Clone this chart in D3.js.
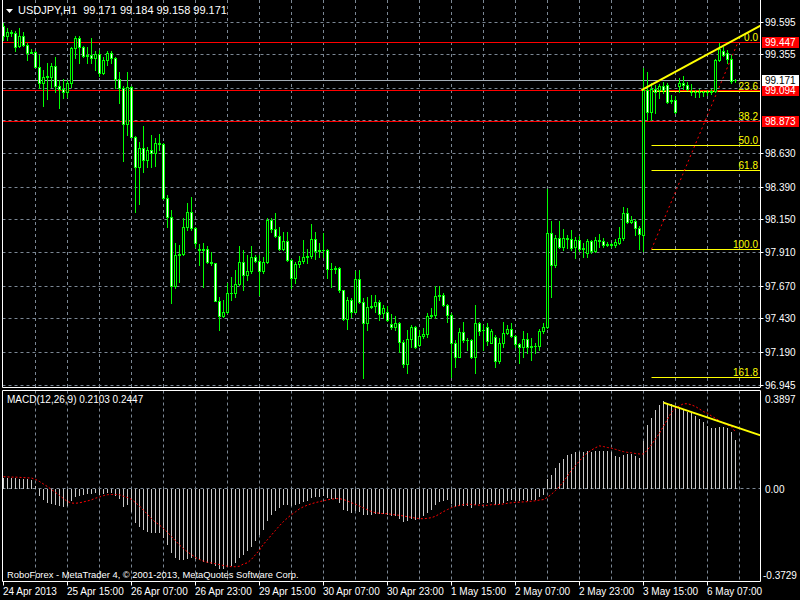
<!DOCTYPE html>
<html><head><meta charset="utf-8">
<script src="https://cdn.jsdelivr.net/npm/d3@7"></script>
<style>html,body{margin:0;padding:0;background:#000;}svg{display:block;}text{font-family:"Liberation Sans",Arial,sans-serif;}</style>
</head><body><svg id="c" width="800" height="600"></svg>
<script>
// ---------------- DATA ----------------
const title = "USDJPY,H1  99.171 99.184 99.158 99.171";
const macdTitle = "MACD(12,26,9) 0.2103 0.2447";
const footer = "RoboForex - MetaTrader 4, \u00A9 2001-2013, MetaQuotes Software Corp.";

const open = [
99.566,99.493,99.520,99.512,99.420,99.493,99.427,99.372,99.379,99.270,
99.154,99.197,99.197,99.275,99.129,99.110,99.088,99.154,99.403,99.476,
99.410,99.347,99.355,99.330,99.362,99.226,99.318,99.367,99.330,99.178,
99.112,98.853,99.120,98.761,98.538,98.676,98.591,98.664,98.640,98.712,
98.705,98.312,98.174,97.675,97.900,97.907,98.101,98.215,98.094,97.941,
97.937,97.946,97.852,97.844,97.568,97.457,97.488,97.621,97.624,97.689,
97.849,97.755,97.784,97.883,97.859,97.786,97.849,98.155,98.087,98.038,
97.941,98.004,97.864,97.731,97.835,97.859,97.888,97.891,98.014,97.932,
97.934,97.934,97.796,97.801,97.803,97.646,97.432,97.573,97.488,97.723,
97.561,97.403,97.520,97.527,97.561,97.476,97.488,97.398,97.374,97.408,
97.270,97.107,97.287,97.374,97.246,97.311,97.326,97.457,97.461,97.602,
97.607,97.537,97.464,97.258,97.161,97.343,97.282,97.280,97.156,97.403,
97.355,97.374,97.258,97.301,97.132,97.258,97.330,97.360,97.311,97.253,
97.229,97.287,97.234,97.236,97.238,97.350,97.379,98.058,97.827,98.021,
97.956,98.021,98.017,97.956,98.009,97.944,97.917,98.002,97.932,98.009,
98.004,97.973,97.978,97.973,97.985,98.021,98.203,98.143,98.150,98.094,
98.046,99.100,98.943,99.105,99.100,99.129,99.137,99.023,99.027,99.129,
99.154,99.139,99.088,99.083,99.086,99.083,99.086,99.088,99.093,99.318,
99.386,99.367,99.323,99.171];
const high = [
99.590,99.549,99.537,99.532,99.549,99.524,99.444,99.396,99.386,99.355,
99.246,99.294,99.299,99.338,99.173,99.178,99.173,99.415,99.493,99.493,
99.420,99.410,99.476,99.386,99.391,99.343,99.386,99.386,99.343,99.234,
99.129,99.234,99.129,98.766,98.724,98.838,98.683,98.773,98.749,98.780,
98.712,98.337,98.227,97.985,97.973,98.167,98.276,98.320,98.101,97.980,
97.985,97.966,97.924,97.844,97.597,97.573,97.694,97.743,97.791,97.966,
97.937,97.900,97.966,97.900,97.900,97.888,98.167,98.167,98.203,98.106,
98.070,98.070,97.869,97.852,97.893,98.009,97.941,98.126,98.070,97.985,
98.063,97.941,97.840,97.820,97.815,97.646,97.597,97.585,97.786,97.791,
97.585,97.597,97.609,97.609,97.573,97.536,97.529,97.471,97.457,97.415,
97.282,97.355,97.391,97.384,97.355,97.367,97.476,97.512,97.675,97.675,
97.621,97.544,97.476,97.282,97.367,97.415,97.294,97.287,97.537,97.415,
97.391,97.408,97.360,97.318,97.294,97.415,97.391,97.403,97.318,97.263,
97.350,97.335,97.294,97.263,97.360,97.403,98.378,98.150,98.046,98.150,
98.087,98.046,98.082,98.029,98.038,97.985,98.014,98.009,98.034,98.053,
98.021,97.997,97.990,98.014,98.101,98.247,98.240,98.184,98.160,98.111,
99.258,99.234,99.153,99.137,99.144,99.161,99.149,99.064,99.057,99.185,
99.202,99.161,99.144,99.100,99.105,99.095,99.100,99.105,99.323,99.440,
99.415,99.391,99.355,99.184];
const low = [
99.464,99.464,99.493,99.386,99.410,99.420,99.318,99.367,99.265,99.112,
98.984,99.032,99.124,99.088,98.967,99.040,99.047,99.124,99.330,99.299,
99.338,99.294,99.299,99.246,99.202,99.217,99.282,99.299,99.112,99.003,
98.586,98.773,98.761,98.215,98.271,98.506,98.543,98.538,98.547,98.664,
98.305,98.106,97.554,97.658,97.706,97.900,98.082,98.082,97.961,97.827,
97.670,97.840,97.827,97.568,97.355,97.452,97.476,97.573,97.592,97.682,
97.646,97.718,97.767,97.852,97.609,97.772,97.840,98.070,98.034,97.937,
97.937,97.859,97.658,97.694,97.815,97.840,97.840,97.876,97.869,97.888,
97.888,97.731,97.670,97.767,97.634,97.427,97.360,97.452,97.488,97.549,
97.003,97.355,97.512,97.488,97.427,97.440,97.423,97.360,97.355,97.197,
97.088,97.044,97.234,97.221,97.238,97.294,97.306,97.440,97.440,97.573,
97.529,97.415,97.015,97.088,97.156,97.270,97.209,97.149,97.044,97.318,
97.209,97.246,97.258,97.088,97.117,97.234,97.326,97.301,97.229,97.117,
97.156,97.185,97.137,97.185,97.209,97.330,97.367,97.597,97.815,97.949,
97.937,97.949,97.937,97.876,97.932,97.883,97.888,97.917,97.924,97.956,
97.961,97.966,97.961,97.961,97.980,98.009,98.131,98.131,98.046,97.941,
97.932,98.882,98.882,98.930,99.040,99.076,99.003,99.003,98.935,99.088,
99.105,99.100,99.064,99.052,99.052,99.057,99.064,99.071,99.088,99.314,
99.347,99.299,99.149,99.158];
const close = [
99.493,99.520,99.512,99.415,99.493,99.427,99.372,99.379,99.270,99.154,
99.197,99.202,99.275,99.129,99.110,99.088,99.154,99.403,99.476,99.410,
99.347,99.355,99.330,99.362,99.226,99.318,99.367,99.330,99.178,99.112,
98.853,99.120,98.761,98.538,98.676,98.591,98.664,98.640,98.712,98.705,
98.312,98.174,97.675,97.900,97.907,98.101,98.215,98.094,97.985,97.937,
97.946,97.852,97.844,97.568,97.457,97.488,97.621,97.624,97.689,97.849,
97.755,97.784,97.883,97.859,97.786,97.849,98.155,98.087,98.038,97.941,
98.004,97.864,97.731,97.835,97.859,97.888,97.891,98.014,97.932,97.934,
97.936,97.796,97.801,97.803,97.646,97.432,97.573,97.488,97.723,97.561,
97.403,97.520,97.527,97.561,97.471,97.517,97.427,97.374,97.408,97.270,
97.107,97.287,97.374,97.234,97.311,97.326,97.457,97.461,97.602,97.607,
97.537,97.464,97.258,97.161,97.343,97.282,97.280,97.156,97.403,97.350,
97.357,97.277,97.350,97.132,97.258,97.330,97.360,97.311,97.253,97.229,
97.287,97.229,97.236,97.238,97.350,97.379,98.058,97.827,98.021,97.956,
98.021,98.017,97.949,98.009,97.941,97.949,98.002,97.932,98.009,98.004,
97.973,97.978,97.975,97.992,98.021,98.203,98.143,98.155,98.094,98.053,
99.100,98.943,99.105,99.088,99.129,99.100,99.015,99.027,98.943,99.154,
99.134,99.105,99.083,99.086,99.083,99.086,99.088,99.093,99.318,99.396,
99.355,99.323,99.168,99.171];

const macdMain = [
0.045,0.046,0.046,0.045,0.044,0.042,0.040,0.036,0.010,-0.030,
-0.050,-0.060,-0.065,-0.070,-0.075,-0.080,-0.075,-0.055,-0.035,-0.030,
-0.028,-0.025,-0.025,-0.020,-0.028,-0.025,-0.020,-0.020,-0.030,-0.045,
-0.080,-0.070,-0.100,-0.150,-0.165,-0.180,-0.185,-0.190,-0.190,-0.190,
-0.215,-0.245,-0.280,-0.300,-0.310,-0.310,-0.305,-0.300,-0.305,-0.310,
-0.315,-0.320,-0.325,-0.335,-0.345,-0.345,-0.340,-0.335,-0.320,-0.300,
-0.285,-0.270,-0.250,-0.225,-0.200,-0.180,-0.140,-0.115,-0.095,-0.085,
-0.070,-0.070,-0.075,-0.070,-0.065,-0.058,-0.052,-0.040,-0.038,-0.035,
-0.033,-0.040,-0.043,-0.045,-0.060,-0.090,-0.095,-0.105,-0.095,-0.100,
-0.115,-0.115,-0.112,-0.108,-0.110,-0.108,-0.112,-0.120,-0.120,-0.130,
-0.145,-0.140,-0.130,-0.135,-0.128,-0.120,-0.105,-0.092,-0.072,-0.058,
-0.052,-0.050,-0.065,-0.080,-0.075,-0.075,-0.075,-0.085,-0.070,-0.065,
-0.060,-0.062,-0.058,-0.070,-0.068,-0.060,-0.052,-0.050,-0.052,-0.054,
-0.050,-0.052,-0.050,-0.048,-0.037,-0.027,0.040,0.060,0.090,0.110,
0.130,0.145,0.150,0.158,0.158,0.158,0.162,0.160,0.163,0.163,
0.164,0.164,0.160,0.141,0.138,0.146,0.150,0.150,0.141,0.131,
0.207,0.275,0.304,0.340,0.362,0.377,0.372,0.366,0.355,0.348,
0.340,0.333,0.326,0.314,0.300,0.290,0.273,0.261,0.264,0.265,
0.265,0.261,0.246,0.2103];
const macdSignal = [
0.052,0.051,0.050,0.050,0.049,0.048,0.047,0.046,0.040,0.031,
0.020,0.009,-0.004,-0.016,-0.029,-0.043,-0.055,-0.062,-0.063,-0.061,
-0.057,-0.053,-0.048,-0.041,-0.036,-0.030,-0.026,-0.025,-0.025,-0.026,
-0.033,-0.038,-0.046,-0.060,-0.075,-0.093,-0.111,-0.129,-0.145,-0.157,
-0.172,-0.188,-0.207,-0.225,-0.243,-0.259,-0.273,-0.285,-0.297,-0.306,
-0.313,-0.318,-0.321,-0.324,-0.328,-0.332,-0.335,-0.337,-0.337,-0.335,
-0.325,-0.320,-0.305,-0.285,-0.265,-0.240,-0.220,-0.200,-0.180,-0.160,
-0.142,-0.126,-0.112,-0.100,-0.087,-0.078,-0.071,-0.065,-0.060,-0.056,
-0.052,-0.048,-0.045,-0.043,-0.043,-0.047,-0.053,-0.061,-0.067,-0.075,
-0.083,-0.091,-0.099,-0.104,-0.106,-0.108,-0.108,-0.111,-0.113,-0.115,
-0.118,-0.121,-0.124,-0.127,-0.129,-0.130,-0.128,-0.125,-0.119,-0.109,
-0.099,-0.090,-0.082,-0.077,-0.072,-0.069,-0.067,-0.068,-0.070,-0.071,
-0.072,-0.072,-0.069,-0.069,-0.068,-0.066,-0.063,-0.061,-0.059,-0.058,
-0.057,-0.056,-0.054,-0.052,-0.049,-0.047,-0.037,-0.024,-0.008,0.010,
0.030,0.055,0.080,0.100,0.120,0.140,0.155,0.167,0.177,0.185,
0.182,0.178,0.175,0.170,0.165,0.160,0.157,0.155,0.152,0.150,
0.150,0.168,0.190,0.215,0.240,0.270,0.300,0.330,0.348,0.358,
0.367,0.367,0.362,0.355,0.344,0.333,0.326,0.314,0.304,0.294,
0.282,0.275,0.268,0.2447];

const timeTickBars = [0,16,32,48,64,80,96,112,128,144,160,176];
const timeTickLabels = ["24 Apr 2013","25 Apr 15:00","26 Apr 07:00","26 Apr 23:00","29 Apr 15:00","30 Apr 07:00","30 Apr 23:00","1 May 15:00","2 May 07:00","2 May 23:00","3 May 15:00","6 May 07:00"];
const priceGrid = [99.595,99.355,99.115,98.875,98.635,98.395,98.155,97.915,97.675,97.435,97.195,96.955];
const priceGridLabels = ["99.595","99.355","","","98.630","98.390","98.150","97.910","97.670","97.430","97.190","96.945"];
const gridBars = [8,16,24,32,40,48,56,64,72,80,88,96,104,112,120,128,136,144,152,160,168,176,184];
const redLevels = [99.447, 99.094, 98.873];
const bidPrice = 99.171;
const macdLabels = [0.3897, 0.00, -0.3729];
const macdLabelTexts = ["0.3897","0.00","-0.3729"];
const fibLevels = [0, 23.6, 38.2, 50.0, 61.8, 100.0, 161.8];
const fibLabels = ["0.0","23.6","38.2","50.0","61.8","100.0","161.8"];
const fibLow = {bar:162, price:97.942};
const fibHigh = {bar:183.6, price:99.447};
const trendMain = [{bar:159.5, price:99.100},{bar:179, price:99.407}];
const trendMacd = [{bar:165, v:0.372},{bar:183, v:0.267}];

// ---------------- LAYOUT ----------------
const L = 2.5, R = 760.5, mainTop = 0, mainBot = 387.5, subTop = 390.5, subBot = 581.5;
const svg = d3.select('#c');
svg.append('rect').attr('width',800).attr('height',600).attr('fill','#000');
const x = d3.scaleLinear().domain([0,183]).range([3.5,735.5]);
const y = d3.scaleLinear().domain([99.595,96.955]).range([22,385]);
const ym = d3.scaleLinear().domain([0.3897,-0.3729]).range([398.5,575]);
const px = v => Math.round(v - 0.5) + 0.5;

const defs = svg.append('defs');
defs.append('clipPath').attr('id','cm').append('rect').attr('x',L).attr('y',mainTop).attr('width',R-L).attr('height',mainBot-mainTop);
defs.append('clipPath').attr('id','cs').append('rect').attr('x',L).attr('y',subTop).attr('width',R-L).attr('height',subBot-subTop);

const gridColor = '#7b8794';
const gMain = svg.append('g').attr('clip-path','url(#cm)');
const gSub = svg.append('g').attr('clip-path','url(#cs)');

// grid
gridBars.forEach(b => {
  [ [gMain, mainTop, mainBot], [gSub, subTop, subBot] ].forEach(([g,a,bb]) => {
    g.append('line').attr('x1',px(x(b))).attr('x2',px(x(b))).attr('y1',a).attr('y2',bb)
      .attr('stroke',gridColor).attr('stroke-dasharray','3,3');
  });
});
priceGrid.forEach(p => {
  gMain.append('line').attr('x1',L).attr('x2',R).attr('y1',px(y(p))).attr('y2',px(y(p)))
    .attr('stroke',gridColor).attr('stroke-dasharray','3,3');
});
gSub.append('line').attr('x1',L).attr('x2',R).attr('y1',px(ym(0))).attr('y2',px(ym(0)))
  .attr('stroke',gridColor).attr('stroke-dasharray','3,3');

// fibonacci
const fibRange = fibHigh.price - fibLow.price;
fibLevels.forEach((lv,i) => {
  const p = fibHigh.price - fibRange*lv/100;
  const yy = px(y(p));
  gMain.append('line').attr('x1',x(fibLow.bar)).attr('x2',R).attr('y1',yy).attr('y2',yy).attr('stroke','#ffff00');
  gMain.append('text').attr('x',758).attr('y',yy-2).attr('text-anchor','end')
    .attr('font-size',10).attr('fill','#ffff00').text(fibLabels[i]);
});
gMain.append('line').attr('x1',x(fibLow.bar)).attr('y1',y(fibLow.price)).attr('x2',x(fibHigh.bar)).attr('y2',y(fibHigh.price))
  .attr('stroke','#ff0000').attr('stroke-dasharray','2,3');

// horizontal objects
redLevels.forEach(p => {
  gMain.append('line').attr('x1',L).attr('x2',R).attr('y1',px(y(p))).attr('y2',px(y(p))).attr('stroke','#ff0000');
});
gMain.append('line').attr('x1',L).attr('x2',R).attr('y1',px(y(bidPrice))).attr('y2',px(y(bidPrice))).attr('stroke','#a3acb5');

// candles
const idx = d3.range(open.length);
const cg = gMain.append('g');
idx.forEach(i => {
  const cx = x(i);
  cg.append('line').attr('x1',cx).attr('x2',cx).attr('y1',Math.round(y(high[i]))).attr('y2',Math.round(y(low[i]))+1)
    .attr('stroke','#00ff00');
  const yo = Math.round(y(open[i])), yc = Math.round(y(close[i]));
  const top = Math.min(yo,yc), h = Math.abs(yo-yc);
  if (h < 1) {
    cg.append('line').attr('x1',cx-1.5).attr('x2',cx+1.5).attr('y1',top+0.5).attr('y2',top+0.5).attr('stroke','#00ff00');
  } else {
    cg.append('rect').attr('x',cx-1).attr('width',2).attr('y',top+0.5).attr('height',h)
      .attr('fill', close[i] > open[i] ? '#000' : '#ffffff').attr('stroke','#00ff00');
  }
});

// trend line main (ray to right)
{
  const [a,b] = trendMain;
  const slope = (b.price-a.price)/(b.bar-a.bar);
  const endBar = x.invert(R);
  gMain.append('line').attr('x1',x(a.bar)).attr('y1',y(a.price)).attr('x2',x(endBar)).attr('y2',y(a.price+slope*(endBar-a.bar)))
    .attr('stroke','#ffff00').attr('stroke-width',2);
}

// MACD
const sg = gSub.append('g');
idx.forEach(i => {
  sg.append('line').attr('x1',x(i)).attr('x2',x(i)).attr('y1',Math.round(ym(0))).attr('y2',Math.round(ym(macdMain[i])))
    .attr('stroke','#c8c8c8');
});
sg.append('path').datum(macdSignal).attr('fill','none').attr('stroke','#ff0000').attr('stroke-dasharray','2,2')
  .attr('d', d3.line().x((d,i)=>x(i)).y(d=>ym(d)));
{
  const [a,b] = trendMacd;
  const slope = (b.v-a.v)/(b.bar-a.bar);
  const endBar = x.invert(R);
  gSub.append('line').attr('x1',x(a.bar)).attr('y1',ym(a.v)).attr('x2',x(endBar)).attr('y2',ym(a.v+slope*(endBar-a.bar)))
    .attr('stroke','#ffff00').attr('stroke-width',2);
}

// frames
const fr = svg.append('g').attr('stroke','#ffffff').attr('fill','none');
fr.append('path').attr('d',`M${L},${mainTop}V${mainBot}H${R}V${mainTop}`);
fr.append('path').attr('d',`M${L},${subBot}V${subTop}H${R}V${subBot}H${L}`);

// price axis labels
priceGrid.forEach((p,i) => {
  if (!priceGridLabels[i]) return;
  const yy = px(y(p));
  svg.append('line').attr('x1',R).attr('x2',R+3).attr('y1',yy).attr('y2',yy).attr('stroke','#fff');
  svg.append('text').attr('x',765).attr('y',yy).attr('dy','0.35em').attr('font-size',10).attr('fill','#fff').text(priceGridLabels[i]);
});
redLevels.forEach(p => {
  const yy = px(y(p));
  svg.append('rect').attr('x',762).attr('y',yy-5.5).attr('width',37).attr('height',11).attr('fill','#ff0000');
  svg.append('text').attr('x',765).attr('y',yy).attr('dy','0.35em').attr('font-size',10).attr('fill','#fff').text(p.toFixed(3));
});
{
  const yy = px(y(bidPrice));
  svg.append('rect').attr('x',762).attr('y',yy-5.5).attr('width',37).attr('height',11).attr('fill','#ffffff');
  svg.append('text').attr('x',765).attr('y',yy).attr('dy','0.35em').attr('font-size',10).attr('fill','#000').text(bidPrice.toFixed(3));
}
macdLabels.forEach((v,i) => {
  const yy = Math.round(ym(v));
  svg.append('text').attr('x', v<0 ? 763 : 765).attr('y',yy).attr('dy','0.35em').attr('font-size',10).attr('fill','#fff').text(macdLabelTexts[i]);
});

// time axis
timeTickBars.forEach((b,i) => {
  const xx = px(x(b));
  svg.append('line').attr('x1',xx).attr('x2',xx).attr('y1',subBot).attr('y2',subBot+4).attr('stroke','#fff');
  svg.append('text').attr('x',xx-0.5).attr('y',595).attr('font-size',10).attr('fill','#fff').text(timeTickLabels[i]);
});

// titles
svg.append('path').attr('d','M6,9L13,9L9.5,13Z').attr('fill','#fff');
svg.append('text').attr('x',18).attr('y',14).attr('font-size',11).attr('fill','#fff').attr('xml:space','preserve').text(title);
svg.append('text').attr('x',7).attr('y',403).attr('font-size',10).attr('fill','#fff').text(macdTitle);
svg.append('text').attr('x',7).attr('y',578).attr('font-size',9.4).attr('fill','#fff').text(footer);
</script></body></html>
